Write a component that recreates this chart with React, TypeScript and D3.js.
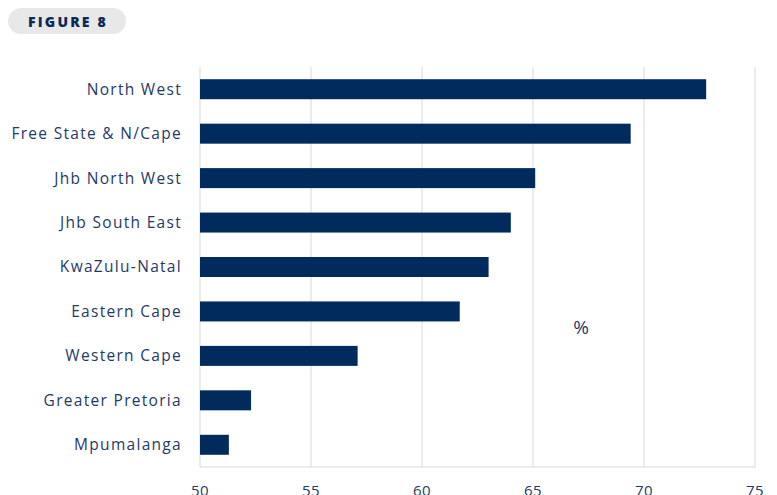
import React from "react";
import * as d3 from "d3";

const categories = [
  "North West",
  "Free State & N/Cape",
  "Jhb North West",
  "Jhb South East",
  "KwaZulu-Natal",
  "Eastern Cape",
  "Western Cape",
  "Greater Pretoria",
  "Mpumalanga",
];
const values = [72.8, 69.4, 65.1, 64.0, 63.0, 61.7, 57.1, 52.3, 51.3];
const ticks = [50, 55, 60, 65, 70, 75];

const W = 777;
const H = 495;
const FONT = "'Open Sans', sans-serif";
const TEXT = "#1f3a66";
const BAR = "#002b5c";
const GRID = "#d9d9d9";

export default function App() {
  const x = d3.scaleLinear().domain([50, 75]).range([200, 755]);
  const y = d3.scaleBand<string>().domain(categories).range([67, 467]).paddingInner(0.55).paddingOuter(0.275);

  return (
    <svg width={W} height={H} style={{ position: "absolute", left: 0, top: 0 }}>
      <rect x={8} y={8} width={118} height={26} rx={13} fill="#e8e8e8" />
      <text x={68} y={26.5} textAnchor="middle" fontFamily={FONT} fontWeight={800} fontSize={14} letterSpacing={2.2} fill="#0b2a55">
        FIGURE 8
      </text>
      {ticks.map((t) => (
        <line key={t} x1={x(t)} x2={x(t)} y1={67} y2={467} stroke={GRID} strokeWidth={1} />
      ))}
      <line x1={x(50)} x2={x(75)} y1={467} y2={467} stroke={GRID} strokeWidth={1} />
      {categories.map((c, i) => (
        <rect key={c} x={x(50)} y={y(c)!} width={x(values[i]) - x(50)} height={y.bandwidth()} fill={BAR} />
      ))}
      {categories.map((c) => (
        <text key={c} x={182} y={y(c)! + y.bandwidth() / 2} dy="0.35em" textAnchor="end" fontFamily={FONT} fontSize={15.5} letterSpacing={1.3} fill={TEXT}>
          {c}
        </text>
      ))}
      {ticks.map((t) => (
        <text key={t} x={x(t)} y={496} textAnchor="middle" fontFamily={FONT} fontSize={15} letterSpacing={0.5} fill={TEXT}>
          {t}
        </text>
      ))}
      <text x={581} y={334} textAnchor="middle" fontFamily={FONT} fontSize={19} fill={TEXT}>
        %
      </text>
    </svg>
  );
}
